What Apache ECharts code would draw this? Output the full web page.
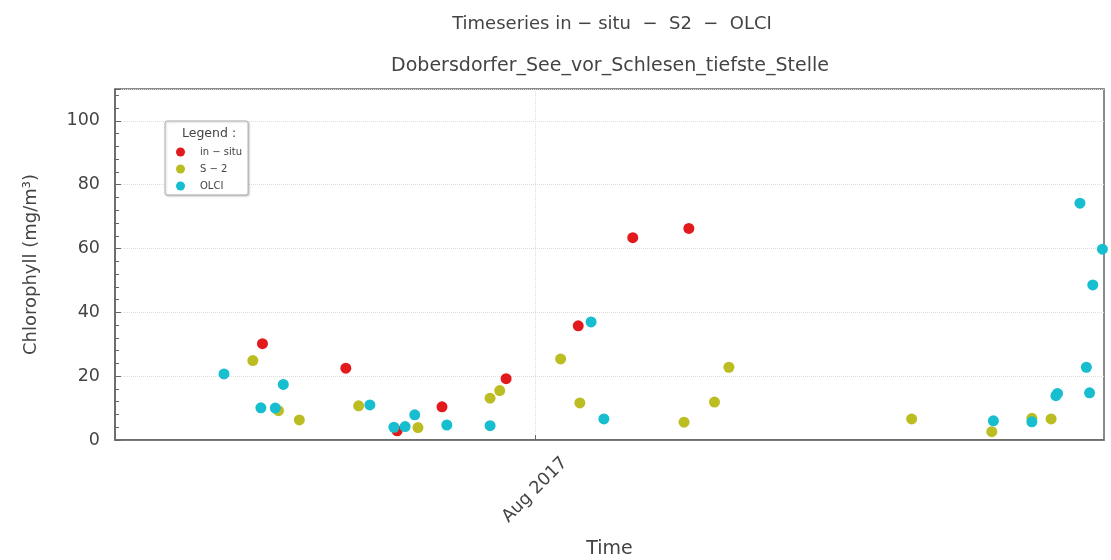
<!DOCTYPE html>
<html>
<head>
<meta charset="utf-8">
<script src="https://cdn.jsdelivr.net/npm/echarts@6/dist/echarts.min.js"></script>
<style>html,body{margin:0;padding:0;background:#fff}#chart{width:1111px;height:560px}</style>
</head>
<body>
<div id="chart"></div>
<script>
// ---- data ----
const seriesNames = ['in \u2212 situ', 'S \u2212 2', 'OLCI'];
const inSituDates = ['2017-02-12','2017-04-05','2017-05-07','2017-06-04','2017-07-14','2017-08-28','2017-10-01','2017-11-05'];
const inSituValues = [30.2, 22.5, 2.9, 10.4, 19.2, 35.8, 63.4, 66.3];
const s2Dates = ['2017-02-06','2017-02-22','2017-03-07','2017-04-13','2017-05-20','2017-07-04','2017-07-10','2017-08-17','2017-08-29','2017-11-02','2017-11-21','2017-11-30','2018-03-24','2018-05-13','2018-06-07','2018-06-19'];
const s2Values = [24.9, 9.2, 6.3, 10.7, 3.9, 13.1, 15.5, 25.4, 11.6, 5.6, 11.9, 22.8, 6.6, 2.6, 6.8, 6.6];
const olciDates = ['2017-01-19','2017-02-11','2017-02-20','2017-02-25','2017-04-20','2017-05-05','2017-05-12','2017-05-18','2017-06-07','2017-07-04','2017-09-05','2017-09-13','2018-05-14','2018-06-07','2018-06-22','2018-06-23','2018-07-07','2018-07-11','2018-07-13','2018-07-15','2018-07-21'];
const olciValues = [20.7, 10.1, 10.0, 17.4, 11.0, 4.0, 4.2, 7.9, 4.7, 4.5, 37.0, 6.6, 6.0, 5.7, 13.9, 14.6, 74.2, 22.8, 14.8, 48.6, 59.8];
const xRange = ['2016-11-12', '2018-07-22'];
const xTickDates = ['2017-08-01'];
const xTickLabels = ['Aug 2017'];
const yTicks = [0, 20, 40, 60, 80, 100];

const toTs = s => { const p = s.split('-').map(Number); return new Date(p[0], p[1]-1, p[2]).getTime(); };
const pairs = (d, v) => d.map((x, i) => [toTs(x), v[i]]);
const xTickTs = xTickDates.map(toTs);

const colors = ['#e31a1c', '#bcbd22', '#17becf'];
const FONT = 'DejaVu Sans';
const chart = echarts.init(document.getElementById('chart'));
chart.setOption({
  animation: false,
  textStyle: { fontFamily: FONT },
  title: [
    { text: 'Timeseries in \u2212 situ  \u2212  S2  \u2212  OLCI', left: 607, textAlign: 'center', top: 10,
      textStyle: { fontFamily: FONT, fontSize: 18, fontWeight: 'normal', color: '#444' } },
    { text: 'Dobersdorfer_See_vor_Schlesen_tiefste_Stelle', left: 605, textAlign: 'center', top: 52,
      textStyle: { fontFamily: FONT, fontSize: 19, fontWeight: 'normal', color: '#444' } },
    { text: 'Legend :', left: 177, top: 122, z: 10,
      textStyle: { fontFamily: FONT, fontSize: 12.5, fontWeight: 'normal', color: '#444' } }
  ],
  legend: {
    orient: 'vertical', left: 165, top: 121,
    padding: [25, 6, 3, 11],
    itemWidth: 9, itemHeight: 9, itemGap: 5,
    icon: 'circle',
    backgroundColor: '#fff', borderColor: '#aaa', borderWidth: 1, borderRadius: 2,
    shadowBlur: 2, shadowColor: 'rgba(0,0,0,0.2)', shadowOffsetX: 1, shadowOffsetY: 1,
    textStyle: { fontFamily: FONT, fontSize: 10, color: '#444', lineHeight: 12, padding: [0,0,0,10] },
    data: seriesNames
  },
  grid: { left: 115, right: 7, top: 89, bottom: 120, outerBoundsMode: 'none', containLabel: false,
          show: true, borderColor: '#666', borderWidth: 1.5, backgroundColor: 'transparent' },
  xAxis: {
    type: 'value',
    min: toTs(xRange[0]), max: toTs(xRange[1]),
    name: 'Time', nameLocation: 'middle', nameGap: 100,
    nameTextStyle: { fontFamily: FONT, fontSize: 19, color: '#444' },
    axisLine: { lineStyle: { color: '#666', width: 1.5 } },
    axisTick: { show: true, inside: true, length: 5, customValues: xTickTs, lineStyle: { color: '#666' } },
    axisLabel: {
      customValues: xTickTs,
      formatter: (v) => { const i = xTickTs.indexOf(v); return i >= 0 ? xTickLabels[i] : ''; },
      rotate: 45, align: 'center', verticalAlign: 'middle', margin: 50,
      fontFamily: FONT, fontSize: 17.5, color: '#444'
    },
    splitLine: { show: true, lineStyle: { color: '#ddd', type: 'dotted', width: 1 } }
  },
  yAxis: {
    type: 'value', min: 0, max: 110, interval: 20,
    name: 'Chlorophyll (mg/m\u00b3)', nameLocation: 'middle', nameGap: 75,
    nameTextStyle: { fontFamily: FONT, fontSize: 18, color: '#444' },
    axisLine: { show: true, lineStyle: { color: '#666', width: 1.5 } },
    axisTick: { show: true, inside: true, length: 6, lineStyle: { color: '#666' } },
    minorTick: { show: true, splitNumber: 5, length: 4, lineStyle: { color: '#666' } },
    axisLabel: {
      margin: 15, fontFamily: FONT, fontSize: 17.5, color: '#444',
      formatter: v => (yTicks.indexOf(v) >= 0 ? String(v) : '')
    },
    splitLine: { show: true, lineStyle: { color: '#ddd', type: 'dotted', width: 1 } }
  },
  series: [
    { name: seriesNames[0], type: 'scatter', data: pairs(inSituDates, inSituValues), symbolSize: 11, itemStyle: { color: colors[0], opacity: 1 } },
    { name: seriesNames[1], type: 'scatter', data: pairs(s2Dates, s2Values), symbolSize: 11, itemStyle: { color: colors[1], opacity: 1 } },
    { name: seriesNames[2], type: 'scatter', data: pairs(olciDates, olciValues), symbolSize: 11, itemStyle: { color: colors[2], opacity: 1 } }
  ]
});
</script>
</body>
</html>
